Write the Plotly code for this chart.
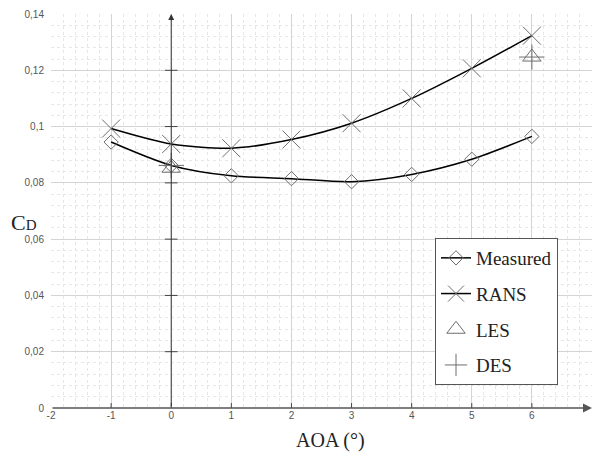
import plotly.graph_objects as go

aoa = [-1, 0, 1, 2, 3, 4, 5, 6]
measured = [0.0945, 0.0862, 0.0825, 0.0815, 0.0804, 0.0830, 0.0884, 0.0965]
rans = [0.0993, 0.0938, 0.0923, 0.0954, 0.1012, 0.1100, 0.1207, 0.1323]
les_x = [0, 6]
les = [0.0852, 0.1247]
des_x = [0, 6]
des = [0.0862, 0.1247]

xticks = [-2, -1, 0, 1, 2, 3, 4, 5, 6, 7]
yticks = [0, 0.02, 0.04, 0.06, 0.08, 0.10, 0.12, 0.14]
yticktext = ["0", "0,02", "0,04", "0,06", "0,08", "0,1", "0,12", "0,14"]

serif = "Liberation Serif"
mk_col = "#6e6e6e"

fig = go.Figure()
fig.add_trace(go.Scatter(x=aoa, y=measured, name="Measured", mode="lines+markers",
                         line=dict(color="black", width=1.5, shape="spline", smoothing=0.8),
                         marker=dict(symbol="diamond-open", size=11, color=mk_col, line=dict(width=1)),
                         legendgroup="a"))
fig.add_trace(go.Scatter(x=aoa, y=rans, name="RANS", mode="lines+markers",
                         line=dict(color="black", width=1.5, shape="spline", smoothing=0.8),
                         marker=dict(symbol="x-thin-open", size=18, color=mk_col, line=dict(width=1, color=mk_col)),
                         legendgroup="b"))
fig.add_trace(go.Scatter(x=les_x, y=les, name="LES", mode="markers",
                         marker=dict(symbol="triangle-up-open", size=16, color=mk_col, line=dict(width=1)),
                         legendgroup="c"))
fig.add_trace(go.Scatter(x=des_x, y=des, name="DES", mode="markers",
                         marker=dict(symbol="cross-thin-open", size=18, color=mk_col, line=dict(width=1, color=mk_col)),
                         legendgroup="d"))

# tick marks on the axis lines (from tick arrays)
fig.add_trace(go.Scatter(x=[0] * len(yticks[1:-1]), y=yticks[1:-1], mode="markers", showlegend=False,
                         hoverinfo="skip",
                         marker=dict(symbol="line-ew", size=9, line=dict(width=1, color="#444"))))
fig.add_trace(go.Scatter(x=xticks[1:-1], y=[0] * len(xticks[1:-1]), mode="markers", showlegend=False,
                         hoverinfo="skip",
                         marker=dict(symbol="line-ns", size=7, line=dict(width=1, color="#444"))))

# axis arrows
fig.add_annotation(x=0, y=0.14, ax=0, ay=0, xref="x", yref="y", axref="x", ayref="y",
                   showarrow=True, arrowhead=2, arrowsize=1.2, arrowwidth=1, arrowcolor="#333", text="")
fig.add_annotation(x=7, y=0, ax=-2, ay=0, xref="x", yref="y", axref="x", ayref="y",
                   showarrow=True, arrowhead=2, arrowsize=1.2, arrowwidth=1.5, arrowcolor="#555", text="")

W, H = 541, 394
fig.add_annotation(text="AOA (°)", x=(330 - 51) / W, y=(408 - 440) / H, xref="paper", yref="paper",
                   xanchor="center", yanchor="middle", showarrow=False,
                   font=dict(family=serif, size=20, color="#222"))
fig.add_annotation(text="C<span style='font-size:15px'>D</span>", x=(24 - 51) / W, y=(408 - 222) / H,
                   xref="paper", yref="paper", xanchor="center", yanchor="middle", showarrow=False,
                   font=dict(family=serif, size=22, color="#222"))

fig.update_layout(
    width=592, height=453,
    margin=dict(l=51, r=0, t=14, b=45),
    paper_bgcolor="white", plot_bgcolor="white",
    showlegend=True,
    legend=dict(x=(435 - 51) / W, y=(408 - 238) / H, xanchor="left", yanchor="top",
                bordercolor="#555", borderwidth=1, bgcolor="white",
                font=dict(family=serif, size=19, color="#222"),
                tracegroupgap=8, itemwidth=30),
    xaxis=dict(range=[-2, 7], tickvals=xticks, ticktext=[str(v) for v in xticks],
               showgrid=True, gridcolor="#d4d4d4", gridwidth=1, zeroline=False,
               showline=False, ticks="",
               tickfont=dict(family="Liberation Sans", size=10, color="#555"),
               minor=dict(dtick=0.2, showgrid=True, gridcolor="#e6e6e6", griddash="dot")),
    yaxis=dict(range=[0, 0.14], tickvals=yticks, ticktext=yticktext,
               showgrid=True, gridcolor="#d4d4d4", gridwidth=1, zeroline=False,
               showline=False, ticks="", ticklabelstandoff=6,
               tickfont=dict(family="Liberation Sans", size=10, color="#555"),
               minor=dict(dtick=0.004, showgrid=True, gridcolor="#e6e6e6", griddash="dot")),
)

fig.write_html("out.html")
